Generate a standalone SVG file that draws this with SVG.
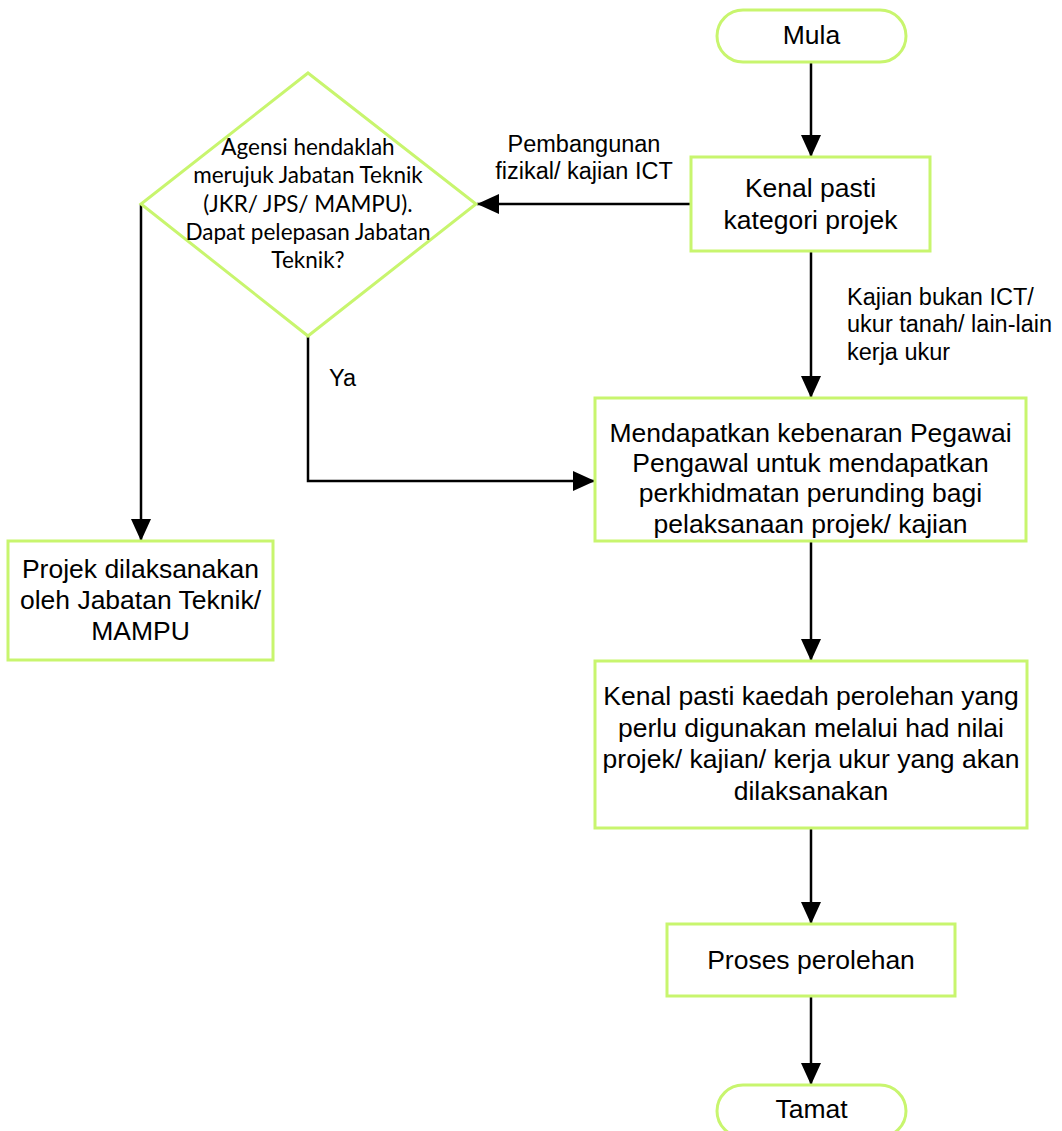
<svg xmlns="http://www.w3.org/2000/svg" width="1062" height="1131" viewBox="0 0 1062 1131">
  <defs>
    <marker id="arrow" markerUnits="userSpaceOnUse" markerWidth="22" markerHeight="20" refX="22" refY="10" orient="auto">
      <path d="M0,0 L22,10 L0,20 z" fill="#000"/>
    </marker>
    <style>
      .node { fill: #fff; stroke: #c8f56e; stroke-width: 3; }
      .edge { fill: none; stroke: #000; stroke-width: 2.5; marker-end: url(#arrow); }
      .t { font-family: "Liberation Sans", Arial, sans-serif; font-size: 26.5px; fill: #000; text-anchor: middle; }
      .lbl { font-family: "Liberation Sans", Arial, sans-serif; font-size: 23.5px; fill: #000; }
      .dt { font-family: Lato, "Open Sans", sans-serif; font-size: 22.5px; fill: #000; text-anchor: middle; }
    </style>
  </defs>
  <rect width="1062" height="1131" fill="#fff"/>

  <!-- connectors -->
  <g id="connectors">
    <line class="edge" x1="811" y1="62" x2="811" y2="157"/>
    <line class="edge" x1="691" y1="204" x2="477" y2="204"/>
    <line class="edge" x1="811" y1="251" x2="811" y2="398"/>
    <polyline class="edge" points="308,336 308,481 595,481"/>
    <polyline class="edge" points="141,204 141,541"/>
    <line class="edge" x1="811" y1="541" x2="811" y2="661"/>
    <line class="edge" x1="811" y1="828" x2="811" y2="924"/>
    <line class="edge" x1="811" y1="996" x2="811" y2="1085"/>
    <text class="lbl" x="584" y="152" text-anchor="middle">Pembangunan</text>
    <text class="lbl" x="584" y="179" text-anchor="middle">fizikal/ kajian ICT</text>
    <text class="lbl" x="847" y="305">Kajian bukan ICT/</text>
    <text class="lbl" x="847" y="332">ukur tanah/ lain-lain</text>
    <text class="lbl" x="847" y="360">kerja ukur</text>
    <text class="lbl" x="329" y="386">Ya</text>
  </g>

  <!-- start -->
  <g id="mula">
    <rect class="node" x="717" y="10" width="189" height="52" rx="26"/>
    <text class="t" x="811.5" y="44">Mula</text>
  </g>

  <!-- identify project category -->
  <g id="kenal-kategori">
    <rect class="node" x="691" y="157" width="239" height="94"/>
    <text class="t" x="810.5" y="197">Kenal pasti</text>
    <text class="t" x="810.5" y="229">kategori projek</text>
  </g>

  <!-- decision -->
  <g id="keputusan">
    <polygon class="node" points="308,73 476,204 308,336 141,204"/>
    <text class="dt" x="308" y="155">Agensi hendaklah</text>
    <text class="dt" x="308" y="183">merujuk Jabatan Teknik</text>
    <text class="dt" x="308" y="212">(JKR/ JPS/ MAMPU).</text>
    <text class="dt" x="308" y="240">Dapat pelepasan Jabatan</text>
    <text class="dt" x="308" y="268">Teknik?</text>
  </g>

  <!-- executed by technical department -->
  <g id="projek-jabatan">
    <rect class="node" x="8" y="541" width="265" height="119"/>
    <text class="t" x="140.5" y="578">Projek dilaksanakan</text>
    <text class="t" x="140.5" y="609">oleh Jabatan Teknik/</text>
    <text class="t" x="140.5" y="640">MAMPU</text>
  </g>

  <!-- controlling officer approval -->
  <g id="kebenaran">
    <rect class="node" x="595" y="398" width="431" height="143"/>
    <text class="t" x="810.5" y="442">Mendapatkan kebenaran Pegawai</text>
    <text class="t" x="810.5" y="472">Pengawal untuk mendapatkan</text>
    <text class="t" x="810.5" y="502">perkhidmatan perunding bagi</text>
    <text class="t" x="810.5" y="533">pelaksanaan projek/ kajian</text>
  </g>

  <!-- procurement method -->
  <g id="kaedah">
    <rect class="node" x="595" y="661" width="432" height="167"/>
    <text class="t" x="811" y="705">Kenal pasti kaedah perolehan yang</text>
    <text class="t" x="811" y="737">perlu digunakan melalui had nilai</text>
    <text class="t" x="811" y="768">projek/ kajian/ kerja ukur yang akan</text>
    <text class="t" x="811" y="800">dilaksanakan</text>
  </g>

  <!-- procurement process -->
  <g id="proses">
    <rect class="node" x="667" y="924" width="288" height="72"/>
    <text class="t" x="811" y="969">Proses perolehan</text>
  </g>

  <!-- end -->
  <g id="tamat">
    <rect class="node" x="717" y="1085" width="189" height="52" rx="26"/>
    <text class="t" x="811.5" y="1118">Tamat</text>
  </g>
</svg>
